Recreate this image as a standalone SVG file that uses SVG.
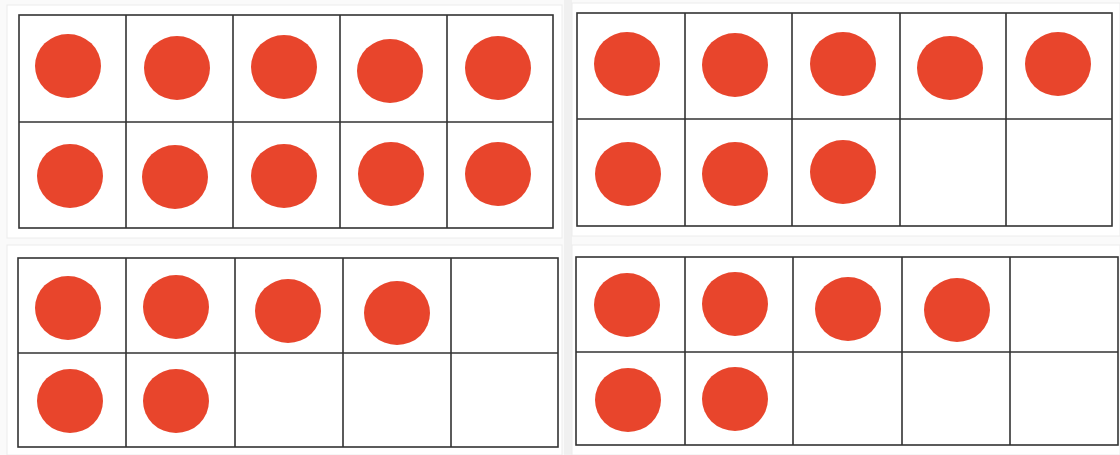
<svg xmlns="http://www.w3.org/2000/svg" width="1120" height="455" viewBox="0 0 1120 455">
<style>
.frame{fill:#fff;stroke:#333;stroke-width:1.6}
.grid{stroke:#333;stroke-width:1.6;fill:none}
.dot{fill:#E8452C}
.card{fill:#fff;stroke:#ececec;stroke-width:1}
</style>
<rect width="1120" height="455" fill="#fafafa"/>
<rect x="564" y="0" width="8" height="455" fill="#f0f0f0"/>
<rect class="card" x="7" y="5" width="555" height="233"/>
<rect class="card" x="7" y="245" width="555" height="210"/>
<rect class="card" x="572" y="3" width="548" height="233"/>
<rect class="card" x="572" y="245" width="548" height="210"/>

<g id="frame-top-left">
<rect class="frame" x="19" y="15" width="534" height="213"/>
<path class="grid" d="M126 15V228M233 15V228M340 15V228M447 15V228M19 122H553"/>
<ellipse class="dot" cx="68" cy="66" rx="33" ry="32"/>
<ellipse class="dot" cx="177" cy="68" rx="33" ry="32"/>
<ellipse class="dot" cx="284" cy="67" rx="33" ry="32"/>
<ellipse class="dot" cx="390" cy="71" rx="33" ry="32"/>
<ellipse class="dot" cx="498" cy="68" rx="33" ry="32"/>
<ellipse class="dot" cx="70" cy="176" rx="33" ry="32"/>
<ellipse class="dot" cx="175" cy="177" rx="33" ry="32"/>
<ellipse class="dot" cx="284" cy="176" rx="33" ry="32"/>
<ellipse class="dot" cx="391" cy="174" rx="33" ry="32"/>
<ellipse class="dot" cx="498" cy="174" rx="33" ry="32"/>
</g>

<g id="frame-top-right">
<rect class="frame" x="577" y="13" width="535" height="213"/>
<path class="grid" d="M685 13V226M792 13V226M900 13V226M1006 13V226M577 119H1112"/>
<ellipse class="dot" cx="627" cy="64" rx="33" ry="32"/>
<ellipse class="dot" cx="735" cy="65" rx="33" ry="32"/>
<ellipse class="dot" cx="843" cy="64" rx="33" ry="32"/>
<ellipse class="dot" cx="950" cy="68" rx="33" ry="32"/>
<ellipse class="dot" cx="1058" cy="64" rx="33" ry="32"/>
<ellipse class="dot" cx="628" cy="174" rx="33" ry="32"/>
<ellipse class="dot" cx="735" cy="174" rx="33" ry="32"/>
<ellipse class="dot" cx="843" cy="172" rx="33" ry="32"/>
</g>

<g id="frame-bottom-left">
<rect class="frame" x="18" y="258" width="540" height="189"/>
<path class="grid" d="M126 258V447M235 258V447M343 258V447M451 258V447M18 353H558"/>
<ellipse class="dot" cx="68" cy="308" rx="33" ry="32"/>
<ellipse class="dot" cx="176" cy="307" rx="33" ry="32"/>
<ellipse class="dot" cx="288" cy="311" rx="33" ry="32"/>
<ellipse class="dot" cx="397" cy="313" rx="33" ry="32"/>
<ellipse class="dot" cx="70" cy="401" rx="33" ry="32"/>
<ellipse class="dot" cx="176" cy="401" rx="33" ry="32"/>
</g>

<g id="frame-bottom-right">
<rect class="frame" x="576" y="257" width="542" height="188"/>
<path class="grid" d="M685 257V445M793 257V445M902 257V445M1010 257V445M576 352H1118"/>
<ellipse class="dot" cx="627" cy="305" rx="33" ry="32"/>
<ellipse class="dot" cx="735" cy="304" rx="33" ry="32"/>
<ellipse class="dot" cx="848" cy="309" rx="33" ry="32"/>
<ellipse class="dot" cx="957" cy="310" rx="33" ry="32"/>
<ellipse class="dot" cx="628" cy="400" rx="33" ry="32"/>
<ellipse class="dot" cx="735" cy="399" rx="33" ry="32"/>
</g>
<g id="connectors"/>
</svg>
